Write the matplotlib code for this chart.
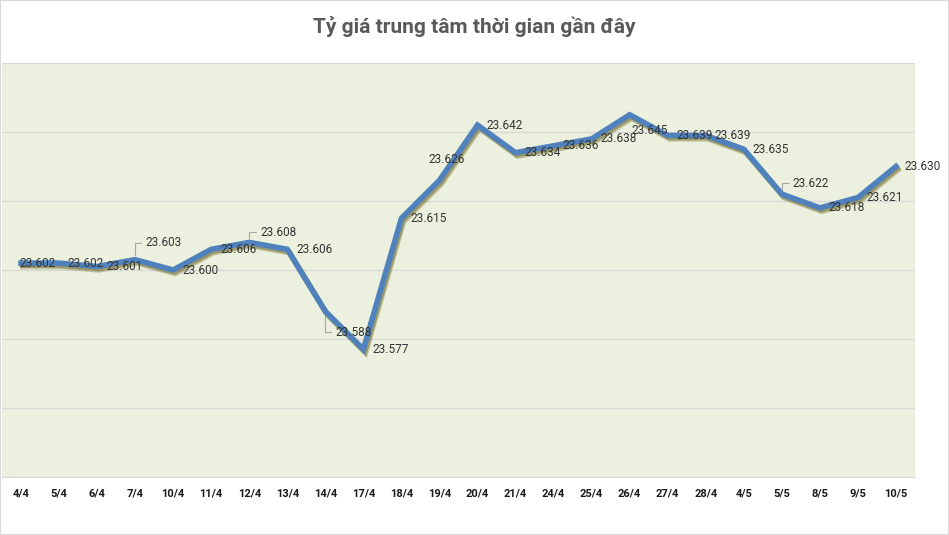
import matplotlib.pyplot as plt
import matplotlib.patheffects as pe
from matplotlib.patches import Rectangle

plt.rcParams['font.family'] = ['Roboto', 'DejaVu Sans']

########################## DATA ##########################

dates = ["4/4", "5/4", "6/4", "7/4", "10/4", "11/4", "12/4", "13/4", "14/4", "17/4",
         "18/4", "19/4", "20/4", "21/4", "24/4", "25/4", "26/4", "27/4", "28/4", "4/5",
         "5/5", "8/5", "9/5", "10/5"]

rates = [23602, 23602, 23601, 23603, 23600, 23606, 23608, 23606, 23588, 23577,
         23615, 23626, 23642, 23634, 23636, 23638, 23645, 23639, 23639, 23635,
         23622, 23618, 23621, 23630]

title = "Tỷ giá trung tâm thời gian gần đây"

# label offsets in pixels (dx, dy), default right of the point
label_offsets = {0: (17, 0), 3: (27, 17), 6: (28, 10), 8: (27, -21),
                 11: (7, 21), 16: (20, -16), 20: (28, 11)}
leaders = [3, 6, 8, 20]

########################## PLOT ##########################

fig = plt.figure(figsize=(9.49, 5.35), dpi=100)
ax = fig.add_axes([2 / 949, 58 / 535, 913 / 949, 414 / 535])
ax.set_facecolor("#EBF1DE")

x = list(range(len(dates)))
ax.plot(x, rates, color="#4F81BD", lw=4.0, solid_joinstyle="miter", zorder=3,
        path_effects=[pe.SimpleLineShadow(offset=(1.5, -2.5), shadow_color="#7a7230", alpha=0.35),
                      pe.SimpleLineShadow(offset=(1.0, -1.5), shadow_color="#6b6428", alpha=0.45),
                      pe.Normal()])

for i, v in enumerate(rates):
    dx, dy = label_offsets.get(i, (27, 0))
    txt = f"{v / 1000:.3f}"
    if i in leaders:
        ax.annotate(txt, (i, v), xytext=(dx - 17, dy), textcoords="offset pixels",
                    ha="left", va="center", fontsize=8.5, color="#333333", zorder=4,
                    annotation_clip=False,
                    arrowprops=dict(arrowstyle="-", color="#A6A6A6", lw=0.8,
                                    connectionstyle="angle,angleA=0,angleB=90,rad=0",
                                    relpos=(0, 0.5), shrinkA=1, shrinkB=3))
    else:
        ax.annotate(txt, (i, v), xytext=(dx, dy), textcoords="offset pixels",
                    ha="center", va="center", fontsize=8.5, color="#333333", zorder=4,
                    annotation_clip=False)

ax.set_xlim(-0.5, len(dates) - 0.5)
ax.set_ylim(23540, 23660)
ax.set_yticks(range(23540, 23661, 20))
ax.set_yticklabels([])
ax.tick_params(axis="y", length=0)
ax.set_xticks(x)
ax.set_xticklabels(dates, fontsize=8, fontweight="bold", color="#1a1a1a")
ax.tick_params(axis="x", length=0, pad=8)
ax.grid(axis="y", color="#D9D9D9", lw=1)
ax.set_axisbelow(True)
for s in ["top", "right", "left"]:
    ax.spines[s].set_visible(False)
ax.spines["bottom"].set_color("#D9D9D9")

fig.text(0.5, 1 - 27 / 535, title, ha="center", va="center", fontsize=15,
         fontweight="bold", color="#595959")

fig.patches.append(Rectangle((0, 0), 1, 1, transform=fig.transFigure, fill=False,
                             edgecolor="#D9D9D9", lw=1.5))

fig.savefig("out.png", dpi=100)
